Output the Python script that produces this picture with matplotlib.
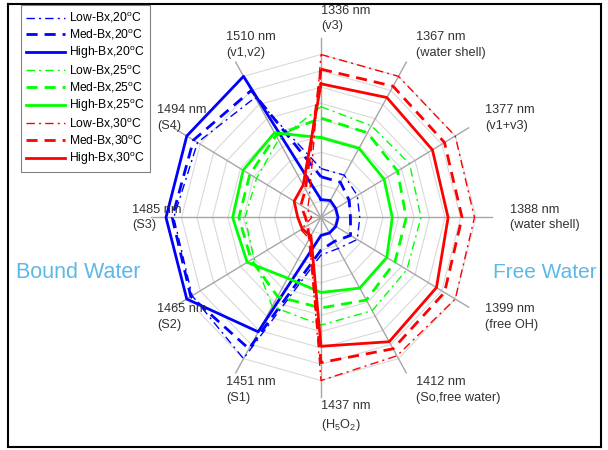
import numpy as np
import matplotlib
matplotlib.use("Agg")
from matplotlib import pyplot as plt

plt.rcParams['font.family'] = ['Liberation Sans', 'DejaVu Sans']
plt.rcParams['mathtext.fontset'] = 'custom'
plt.rcParams['mathtext.rm'] = 'Liberation Sans'
plt.rcParams['mathtext.it'] = 'Liberation Sans:italic'

# spokes, clockwise from the top
wavelengths = ["1336 nm\n(v3)", "1367 nm\n(water shell)", "1377 nm\n(v1+v3)",
               "1388 nm\n(water shell)", "1399 nm\n(free OH)", "1412 nm\n(So,free water)",
               "1437 nm\n(H$_5$O$_2$)", "1451 nm\n(S1)", "1465 nm\n(S2)",
               "1485 nm\n(S3)", "1494 nm\n(S4)", "1510 nm\n(v1,v2)"]

low20 = [0.30, 0.30, 0.27, 0.25, 0.27, 0.22, 0.23, 1.00, 0.96, 0.95, 0.92, 0.85]
med20 = [0.25, 0.25, 0.21, 0.19, 0.22, 0.17, 0.20, 0.93, 0.97, 0.96, 0.95, 0.90]
high20 = [0.11, 0.12, 0.11, 0.11, 0.11, 0.11, 0.11, 0.81, 1.00, 1.00, 1.00, 1.00]

low25 = [0.68, 0.65, 0.66, 0.645, 0.64, 0.66, 0.66, 0.63, 0.50, 0.49, 0.48, 0.55]
med25 = [0.61, 0.60, 0.57, 0.55, 0.55, 0.585, 0.555, 0.56, 0.52, 0.53, 0.53, 0.58]
high25 = [0.49, 0.49, 0.47, 0.46, 0.49, 0.50, 0.46, 0.43, 0.55, 0.57, 0.58, 0.60]

low30 = [1.00, 1.00, 1.00, 0.99, 1.00, 0.98, 1.00, 0.15, 0.15, 0.06, 0.10, 0.15]
med30 = [0.91, 0.93, 0.92, 0.91, 0.92, 0.93, 0.89, 0.15, 0.10, 0.10, 0.15, 0.20]
high30 = [0.82, 0.85, 0.83, 0.82, 0.86, 0.88, 0.79, 0.13, 0.14, 0.15, 0.20, 0.23]

series = [
    ("Low-Bx,20$^{\\mathrm{o}}$C", low20, "b", "-.", 1.0),
    ("Med-Bx,20$^{\\mathrm{o}}$C", med20, "b", "--", 2.0),
    ("High-Bx,20$^{\\mathrm{o}}$C", high20, "b", "-", 2.0),
    ("Low-Bx,25$^{\\mathrm{o}}$C", low25, "#00ff00", "-.", 1.0),
    ("Med-Bx,25$^{\\mathrm{o}}$C", med25, "#00ff00", "--", 2.0),
    ("High-Bx,25$^{\\mathrm{o}}$C", high25, "#00ff00", "-", 2.0),
    ("Low-Bx,30$^{\\mathrm{o}}$C", low30, "r", "-.", 1.0),
    ("Med-Bx,30$^{\\mathrm{o}}$C", med30, "r", "--", 2.0),
    ("High-Bx,30$^{\\mathrm{o}}$C", high30, "r", "-", 2.0),
]

n = len(wavelengths)
ang = np.pi / 2 - np.arange(n) * 2 * np.pi / n
ca, sa = np.cos(ang), np.sin(ang)


def xy(r):
    r = np.append(r, r[0])
    return r * np.append(ca, ca[0]), r * np.append(sa, sa[0])


fig = plt.figure(figsize=(6.08, 4.5), dpi=100)
ax = fig.add_axes([8 / 608, 1 - 447 / 450, 593 / 608, 443 / 450])

# web grid
for lev in np.arange(0.1, 1.01, 0.1):
    gx, gy = xy(np.full(n, lev))
    ax.plot(gx, gy, color="#d9d9d9", lw=0.8, zorder=1)
for c, s in zip(ca, sa):
    ax.plot([0, 1.1 * c], [0, 1.1 * s], color="#a6a6a6", lw=1.0, zorder=1)

for label, vals, col, ls, lw in series:
    px, py = xy(np.array(vals))
    line, = ax.plot(px, py, color=col, ls=ls, lw=lw, label=label, zorder=3)
    if ls == "-.":
        line.set_dashes([6, 3, 1.5, 3])
    elif ls == "--":
        line.set_dashes([4, 2.5])

for lab, c, s in zip(wavelengths, ca, sa):
    ax.text(1.22 * c, 1.22 * s, lab, ha="left", va="center", fontsize=9.2,
            color="#333333", linespacing=1.4, zorder=4)

ax.text(-1.97, -0.34, "Bound Water", color="#5bb8e8", fontsize=15.5, va="center")
ax.text(1.11, -0.34, "Free Water", color="#5bb8e8", fontsize=15, va="center")

ax.set_xlim((8 - 321) / 155, (601 - 321) / 155)
ax.set_ylim((217.5 - 447) / 163, (217.5 - 4) / 163)
ax.set_xticks([])
ax.set_yticks([])
for sp in ax.spines.values():
    sp.set_linewidth(1.5)
    sp.set_color("black")

leg = ax.legend(loc="upper left", bbox_to_anchor=(13 / 593, 1 - 1 / 443),
                borderaxespad=0, fontsize=8.7, handlelength=3.2, handletextpad=0.35,
                labelspacing=0.18, fancybox=False, framealpha=1, borderpad=0.45)
leg.get_frame().set_edgecolor("#808080")
leg.get_frame().set_linewidth(0.8)

fig.savefig("out.png", dpi=100)
